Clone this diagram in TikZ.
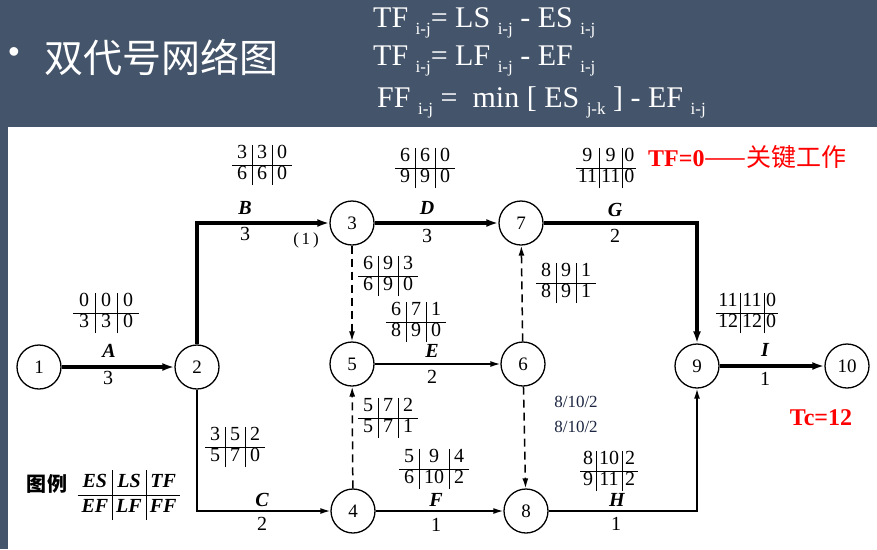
\documentclass[tikz,border=0pt]{standalone}
\usepackage{fontspec}
\setmainfont{Liberation Serif}
\newfontfamily\cjk{Noto Sans CJK SC}
\newfontfamily\sansf{Liberation Sans}
\usetikzlibrary{arrows.meta}
\definecolor{hdrcol}{RGB}{68,84,106}
\definecolor{navy}{RGB}{28,38,66}
\newcommand{\sbx}[1]{\raisebox{-7pt}{\fontsize{17}{17}\selectfont #1}}
\newcommand{\tb}[7][5pt]{\setlength{\tabcolsep}{#1}\begin{tabular}{c|c|c}#2&#3&#4\\\hline #5&#6&#7\end{tabular}}
\begin{document}
\begin{tikzpicture}[x=1pt,y=-1pt,
  ev/.style={circle,draw,line width=1.3pt,minimum size=44pt,inner sep=0pt,font=\fontsize{19}{19}\selectfont},
  crit/.style={line width=4.2pt,-{Latex[length=12pt,width=8pt]}},
  act/.style={line width=1.5pt,-{Latex[length=10pt,width=6pt]}},
  dum/.style={line width=1.5pt,dash pattern=on 8pt off 5pt,-{Latex[length=10pt,width=6pt]}},
  lab/.style={font=\bfseries\itshape\fontsize{20}{20}\selectfont,inner sep=0pt},
  dur/.style={font=\fontsize{20}{20}\selectfont,inner sep=0pt},
  tbl/.style={inner sep=0pt,font=\fontsize{20}{20}\selectfont},
  hdrtxt/.style={anchor=base west,text=white,inner sep=0pt,font=\fontsize{30}{30}\selectfont}]
\useasboundingbox (0,0) rectangle (877,549);
\fill[white] (0,0) rectangle (877,549);
\fill[hdrcol] (0,0) rectangle (877,127);
\fill[hdrcol] (0,0) rectangle (8,549);
% header
\node[text=white,inner sep=0pt,font=\sansf\fontsize{32}{32}\selectfont] (bul) at (14,55) {•};
\node[anchor=west,text=white,inner sep=0pt,font=\cjk\fontsize{39}{39}\selectfont] (ttl) at (44,57) {双代号网络图};
\node[hdrtxt] (f1) at (373,27) {TF \sbx{i-j}= LS \sbx{i-j} - ES \sbx{i-j}};
\node[hdrtxt] (f2) at (373,65) {TF \sbx{i-j}= LF \sbx{i-j} - EF \sbx{i-j}};
\node[hdrtxt] (f3) at (377,107) {FF \sbx{i-j} =\ \ min [ ES \sbx{j-k} ] - EF \sbx{i-j}};
% events
\node[ev] (n1) at (39,367) {1};
\node[ev] (n2) at (197,367) {2};
\node[ev] (n3) at (352,223) {3};
\node[ev] (n7) at (521,223) {7};
\node[ev] (n5) at (352,364) {5};
\node[ev] (n6) at (523,364) {6};
\node[ev] (n4) at (353,511) {4};
\node[ev] (n8) at (526,511) {8};
\node[ev] (n9) at (697,366) {9};
\node[ev] (n10) at (847,366) {10};
% activities
\draw[crit] (n1) -- (n2);
\draw[crit] (n2) |- (n3);
\draw[crit] (n3) -- (n7);
\draw[crit] (n7) -| (n9);
\draw[crit] (n9) -- (n10);
\draw[act] (n2) |- (n4);
\draw[act] (n5) -- (n6);
\draw[act] (n4) -- (n8);
\draw[act] (n8) -| (n9);
\draw[dum] (n3) -- (n5);
\draw[dum] (n4) -- (n5);
\draw[dum] (n6) -- (n7);
\draw[dum] (n6) -- (n8);
% activity labels
\node[lab] (lA) at (109,351) {A};  \node[dur] (dA) at (108,378) {3};
\node[lab] (lB) at (245,208) {B};  \node[dur] (dB) at (245,234) {3};
\node[dur,font=\fontsize{17}{17}\selectfont] (one) at (306,240) {(\,1\,)};
\node[lab] (lD) at (427,208) {D};  \node[dur] (dD) at (427,236) {3};
\node[lab] (lG) at (615,210) {G};  \node[dur] (dG) at (615,236) {2};
\node[lab] (lE) at (432,351) {E};  \node[dur] (dE) at (432,377) {2};
\node[lab] (lI) at (765,350) {I};  \node[dur] (dI) at (765,379) {1};
\node[lab] (lC) at (262,500) {C};  \node[dur] (dC) at (262,524) {2};
\node[lab] (lF) at (436,500) {F};  \node[dur] (dF) at (436,525) {1};
\node[lab] (lH) at (617,500) {H};  \node[dur] (dH) at (616,524) {1};
% time parameter tables
\node[tbl] (t1) at (106,313) {\tb[6pt]{0}{0}{0}{3}{3}{0}};
\node[tbl] (t2) at (262,165) {\tb{3}{3}{0}{6}{6}{0}};
\node[tbl] (t3) at (425,168) {\tb{6}{6}{0}{9}{9}{0}};
\node[tbl] (t4) at (606,168) {\tb[2pt]{9}{9}{0}{11}{11}{0}};
\node[tbl] (t5) at (388,276) {\tb{6}{9}{3}{6}{9}{0}};
\node[tbl] (t6) at (416,322) {\tb{6}{7}{1}{8}{9}{0}};
\node[tbl] (t7) at (566,283) {\tb{8}{9}{1}{8}{9}{1}};
\node[tbl] (t8) at (747,313) {\tb[2pt]{11}{11}{0}{12}{12}{0}};
\node[tbl] (t9) at (235,447) {\tb{3}{5}{2}{5}{7}{0}};
\node[tbl] (t10) at (388,418) {\tb{5}{7}{2}{5}{7}{1}};
\node[tbl] (t11) at (434,469) {\tb{5}{9}{4}{6}{10}{2}};
\node[tbl] (t12) at (609,471) {\tb[3pt]{8}{10}{2}{9}{11}{2}};
\node[inner sep=0pt,text=navy,font=\fontsize{17}{17}\selectfont] (s1) at (576,402) {8/10/2};
\node[inner sep=0pt,text=navy,font=\fontsize{17}{17}\selectfont] (s2) at (576,427) {8/10/2};
% legend
\node[inner sep=0pt,font=\cjk\bfseries\fontsize{20}{20}\selectfont] (lg) at (47,484) {图例};
\node[inner sep=0pt,font=\bfseries\itshape\fontsize{20}{25}\selectfont] (lgt) at (129,495) {\tb[4pt]{ES}{LS}{TF}{EF}{LF}{FF}};
% notes
\node[anchor=west,inner sep=0pt,text=red] (crt) at (648,157) {\fontsize{24}{24}\selectfont\bfseries TF=0{\cjk\mdseries\fontsize{25}{25}\selectfont ——关键工作}};
\node[inner sep=0pt,text=red,font=\bfseries\fontsize{24}{24}\selectfont] (tc) at (821,418) {Tc=12};
\end{tikzpicture}
\end{document}
